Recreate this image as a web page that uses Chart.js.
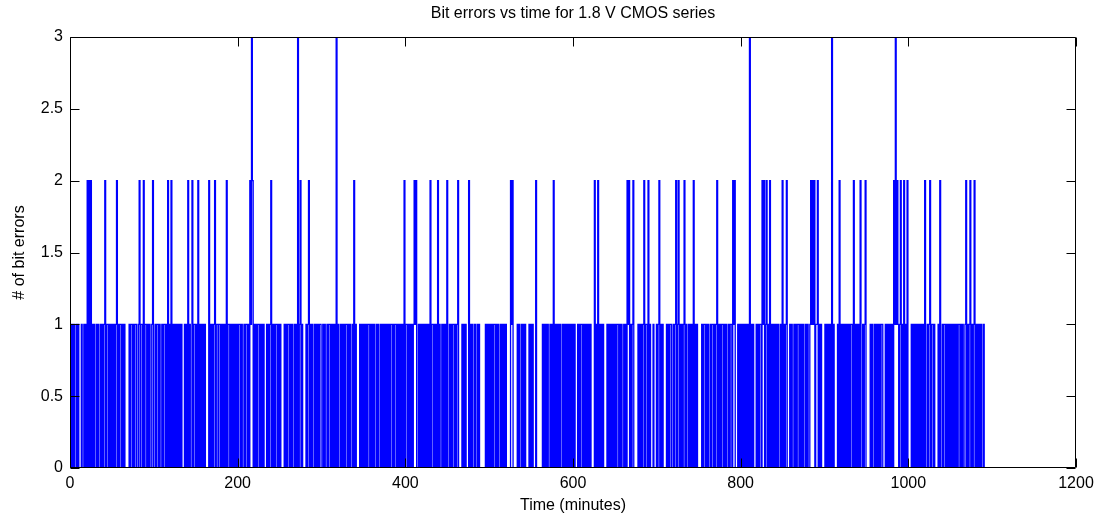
<!DOCTYPE html>
<html>
<head>
<meta charset="utf-8">
<script src="https://cdn.jsdelivr.net/npm/chart.js@4.4.1/dist/chart.umd.min.js"></script>
<style>
  html, body { margin: 0; padding: 0; background: #fff; }
  #wrap { width: 1112px; height: 519px; }
</style>
</head>
<body>
<div id="wrap"><canvas id="chart" width="1112" height="519"></canvas></div>
<script>
// bit errors per minute (one digit = one minute, spaces split decades)
const errorRows = [
  '0101010010 1000100101 0202020101 0010100101 0120110101 0101012010 1101010000 0101101011 0012011020 1101010012', // 0-99
  '0010110100 1011010201 0201010101 0101000101 0201002011 0102010101 0100002010 1012011011 0101010201 1010101010', // 100-199
  '1011010010 1101021320 1010110101 0100010101 2010101101 0100001010 1101010010 1030120100 0010120101 0010101011', // 200-299
  '0010100101 1010101030 1001010101 1010100102 0100001010 1010101101 0101001010 0101010101 0101101011 0101010102', // 300-399
  '0110101010 1212001010 1010101010 2011010102 0100101010 2001010110 1012000010 1010002010 1001001010 0000001010', // 400-499
  '1010101101 0100101010 1000002120 0000101001 0101000010 1010002000 0000101010 1001010201 0101010010 1010101010', // 500-599
  '1010001010 1101010101 0100002010 2010101000 0101010101 0101101010 0101021201 0120000010 1010120110 2010001000', // 600-699
  '1012010100 0010101100 1012012010 1012010010 1010201010 0000101101 0100101101 0120101011 0101001011 0212000101', // 700-799
  '0101010101 0301010001 0101102120 1201020101 0101010010 2010120001 0100101011 0101010010 1001212120 1120101000', // 800-899
  '0101010103 0100001020 1010101010 1011020101 0102001012 0000010100 1010101011 0001010101 0102131210 1201020102', // 900-999
  '0000101010 1010101010 2001012011 0100001020 0101101010 1010101010 1101010012 0101201012 0101010100 100'          // 1000-1092
];

const xTicks = [0, 200, 400, 600, 800, 1000, 1200];
const yTicks = [0, 0.5, 1, 1.5, 2, 2.5, 3];

const errorCounts = errorRows.join('').replace(/ /g, '').split('').map(Number);
const timeMinutes = errorCounts.map((_, i) => i);

const FONT = 'Liberation Sans, Arial, Helvetica, sans-serif';

// matlab style box: axis lines on all four sides, ticks pointing inwards
const matlabBox = {
  id: 'matlabBox',
  afterDatasetsDraw(chart) {
    const { ctx, chartArea: a, scales } = chart;
    const L = Math.round(a.left) + 0.5;
    const R = Math.round(a.right) - 0.5;
    const T = Math.round(a.top) + 0.5;
    const B = Math.round(a.bottom) - 0.5;
    const tick = 9;
    ctx.save();
    ctx.strokeStyle = '#000';
    ctx.lineWidth = 1;
    ctx.beginPath();
    ctx.rect(L, T, R - L, B - T);
    xTicks.forEach((v) => {
      const px = Math.round(scales.x.getPixelForValue(v)) + 0.5;
      ctx.moveTo(px, B); ctx.lineTo(px, B - tick);
      ctx.moveTo(px, T); ctx.lineTo(px, T + tick);
    });
    yTicks.forEach((v) => {
      const py = Math.round(scales.y.getPixelForValue(v)) + 0.5;
      ctx.moveTo(L, py); ctx.lineTo(L + tick, py);
      ctx.moveTo(R, py); ctx.lineTo(R - tick, py);
    });
    ctx.stroke();
    ctx.restore();
  }
};

new Chart(document.getElementById('chart'), {
  type: 'line',
  data: {
    datasets: [{
      label: 'bit errors',
      data: errorCounts.map((v, i) => ({ x: timeMinutes[i], y: v })),
      borderColor: '#0000ff',
      borderWidth: 1.3,
      stepped: 'middle', // near-vertical strokes like the aliased matlab line
      pointRadius: 0,
      tension: 0,
      fill: false,
    }],
  },
  options: {
    responsive: false,
    animation: false,
    events: [],
    layout: { padding: { right: 36 } },
    scales: {
      x: {
        type: 'linear',
        min: 0,
        max: 1200,
        afterBuildTicks: (s) => { s.ticks = xTicks.map((v) => ({ value: v })); },
        afterFit: (s) => { s.height = 51; },
        grid: { display: false, drawTicks: false },
        border: { display: false },
        ticks: {
          color: '#000', padding: 6, maxRotation: 0,
          font: { family: FONT, size: 16 },
          callback: (v) => String(v),
        },
        title: {
          display: true,
          text: 'Time (minutes)',
          color: '#000',
          padding: { top: 0, bottom: 4 },
          font: { family: FONT, size: 16 },
        },
      },
      y: {
        min: 0,
        max: 3,
        afterBuildTicks: (s) => { s.ticks = yTicks.map((v) => ({ value: v })); },
        afterFit: (s) => { s.width = 70; },
        grid: { display: false, drawTicks: false },
        border: { display: false },
        ticks: {
          color: '#000', padding: 7,
          font: { family: FONT, size: 16 },
          callback: (v) => String(v),
        },
        title: {
          display: true,
          text: '# of bit errors',
          color: '#000',
          padding: { top: 10, bottom: 0 },
          font: { family: FONT, size: 16 },
        },
      },
    },
    plugins: {
      legend: { display: false },
      tooltip: { enabled: false },
      title: {
        display: true,
        fullSize: false,
        text: 'Bit errors vs time for 1.8 V CMOS series',
        color: '#000',
        font: { family: FONT, size: 16, weight: 'normal', lineHeight: 1.2 },
        padding: { top: 4, bottom: 13.8 },
      },
    },
  },
  plugins: [matlabBox],
});
</script>
</body>
</html>
